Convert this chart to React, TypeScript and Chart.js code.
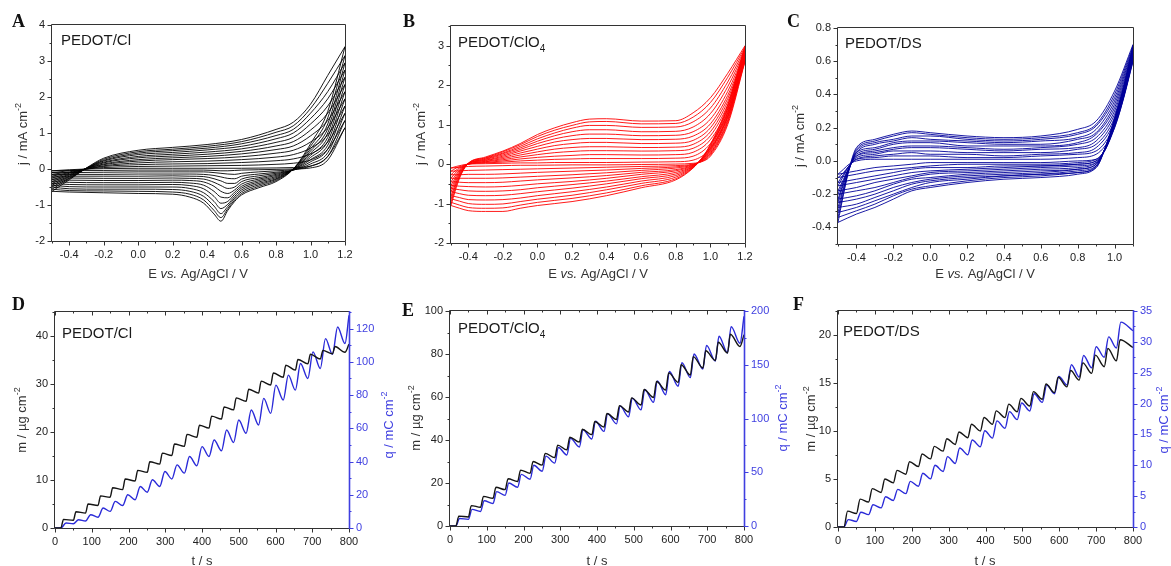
import React, { useEffect, useRef } from "react";
import { Chart, registerables } from "chart.js";
Chart.register(...registerables);

const SANS = '"Liberation Sans", Arial, sans-serif';
const SERIF = '"Liberation Serif", "Times New Roman", serif';
const AXIS = "#333333";
const BLUE_AXIS = "#3f3fe0";
const BLUE_LINE = "#2a2ad8";

// ---------------- Panel A : PEDOT/Cl cyclic voltammograms ----------------
const cvA_Efwd = [-0.5, -0.4, -0.3, -0.2, 0.0, 0.2, 0.4, 0.6, 0.8, 0.9, 1.0, 1.1, 1.2];
const cvA_fwd = [
  [-0.05, -0.02, 0.0, 0.01, 0.02, 0.02, 0.02, 0.02, 0.03, 0.04, 0.08, 0.35, 1.15],
  [-0.1, -0.05, 0.0, 0.04, 0.07, 0.08, 0.09, 0.1, 0.13, 0.16, 0.25, 0.55, 1.35],
  [-0.15, -0.08, 0.0, 0.07, 0.12, 0.14, 0.15, 0.18, 0.23, 0.28, 0.42, 0.75, 1.55],
  [-0.2, -0.1, 0.0, 0.09, 0.17, 0.2, 0.22, 0.26, 0.33, 0.4, 0.58, 0.95, 1.75],
  [-0.25, -0.12, 0.01, 0.12, 0.22, 0.26, 0.29, 0.34, 0.44, 0.52, 0.75, 1.15, 1.95],
  [-0.3, -0.15, 0.01, 0.14, 0.26, 0.31, 0.35, 0.42, 0.54, 0.64, 0.92, 1.35, 2.15],
  [-0.35, -0.17, 0.01, 0.17, 0.31, 0.36, 0.41, 0.49, 0.64, 0.76, 1.08, 1.55, 2.35],
  [-0.4, -0.2, 0.02, 0.19, 0.35, 0.41, 0.47, 0.56, 0.74, 0.88, 1.25, 1.75, 2.55],
  [-0.45, -0.22, 0.02, 0.22, 0.4, 0.46, 0.53, 0.63, 0.84, 1.0, 1.4, 1.95, 2.75],
  [-0.5, -0.25, 0.02, 0.24, 0.44, 0.51, 0.58, 0.7, 0.93, 1.1, 1.55, 2.15, 2.95],
  [-0.56, -0.27, 0.02, 0.27, 0.48, 0.55, 0.63, 0.76, 1.02, 1.2, 1.68, 2.38, 3.15],
  [-0.62, -0.3, 0.03, 0.3, 0.52, 0.6, 0.68, 0.82, 1.1, 1.3, 1.8, 2.6, 3.4],
];
const cvA_Erev = [1.2, 1.1, 1.0, 0.9, 0.8, 0.7, 0.6, 0.56, 0.52, 0.48, 0.44, 0.38, 0.3, 0.2, 0.0, -0.2, -0.4, -0.5];
const cvA_rev = [
  [1.15, 0.25, 0.03, 0.0, -0.01, -0.02, -0.03, -0.04, -0.05, -0.05, -0.04, -0.03, -0.03, -0.03, -0.03, -0.04, -0.04, -0.05],
  [1.35, 0.35, 0.08, -0.02, -0.05, -0.08, -0.12, -0.15, -0.14, -0.12, -0.1, -0.08, -0.08, -0.08, -0.08, -0.09, -0.1, -0.1],
  [1.55, 0.45, 0.14, -0.03, -0.09, -0.14, -0.2, -0.27, -0.26, -0.22, -0.18, -0.15, -0.14, -0.14, -0.14, -0.15, -0.15, -0.15],
  [1.75, 0.55, 0.2, -0.03, -0.12, -0.19, -0.28, -0.4, -0.4, -0.33, -0.27, -0.21, -0.2, -0.19, -0.2, -0.2, -0.2, -0.2],
  [1.95, 0.66, 0.26, -0.02, -0.15, -0.24, -0.35, -0.5, -0.54, -0.46, -0.37, -0.28, -0.26, -0.25, -0.26, -0.26, -0.25, -0.25],
  [2.15, 0.77, 0.32, -0.02, -0.18, -0.28, -0.42, -0.58, -0.68, -0.62, -0.48, -0.36, -0.32, -0.31, -0.32, -0.32, -0.31, -0.3],
  [2.35, 0.88, 0.38, -0.01, -0.21, -0.32, -0.48, -0.64, -0.8, -0.78, -0.62, -0.45, -0.39, -0.37, -0.38, -0.38, -0.37, -0.35],
  [2.55, 1.0, 0.44, -0.01, -0.24, -0.36, -0.53, -0.7, -0.9, -0.95, -0.76, -0.55, -0.46, -0.43, -0.44, -0.44, -0.43, -0.4],
  [2.75, 1.12, 0.5, 0.0, -0.27, -0.4, -0.58, -0.76, -0.98, -1.1, -0.9, -0.66, -0.54, -0.5, -0.5, -0.5, -0.49, -0.45],
  [2.95, 1.25, 0.56, 0.0, -0.29, -0.44, -0.63, -0.81, -1.04, -1.24, -1.03, -0.76, -0.62, -0.57, -0.56, -0.56, -0.55, -0.5],
  [3.15, 1.42, 0.63, 0.0, -0.32, -0.48, -0.68, -0.86, -1.1, -1.35, -1.15, -0.86, -0.7, -0.64, -0.62, -0.61, -0.6, -0.56],
  [3.4, 1.6, 0.7, 0.0, -0.35, -0.52, -0.72, -0.9, -1.15, -1.45, -1.25, -0.95, -0.78, -0.7, -0.68, -0.66, -0.64, -0.62],
];

// ---------------- Panel B : PEDOT/ClO4 ----------------
const cvB_Efwd = [-0.5, -0.47, -0.44, -0.4, -0.3, -0.2, -0.1, 0.0, 0.1, 0.2, 0.3, 0.4, 0.6, 0.8, 0.9, 1.0, 1.1, 1.2];
const cvB_fwd = [
  [-0.1, -0.06, -0.03, 0.0, 0.01, 0.02, 0.03, 0.03, 0.04, 0.04, 0.04, 0.04, 0.05, 0.06, 0.1, 0.4, 1.2, 2.6],
  [-0.18, -0.1, -0.05, 0.0, 0.03, 0.05, 0.08, 0.1, 0.12, 0.13, 0.14, 0.14, 0.14, 0.15, 0.2, 0.52, 1.3, 2.64],
  [-0.27, -0.15, -0.07, 0.0, 0.04, 0.08, 0.13, 0.17, 0.2, 0.22, 0.24, 0.24, 0.23, 0.24, 0.3, 0.62, 1.4, 2.68],
  [-0.36, -0.2, -0.09, 0.0, 0.06, 0.11, 0.18, 0.24, 0.29, 0.32, 0.34, 0.34, 0.33, 0.34, 0.4, 0.72, 1.5, 2.71],
  [-0.45, -0.26, -0.11, 0.0, 0.07, 0.14, 0.23, 0.31, 0.38, 0.42, 0.44, 0.44, 0.42, 0.43, 0.5, 0.82, 1.58, 2.74],
  [-0.54, -0.31, -0.13, 0.01, 0.09, 0.17, 0.28, 0.38, 0.47, 0.52, 0.55, 0.55, 0.52, 0.53, 0.6, 0.92, 1.66, 2.77],
  [-0.62, -0.36, -0.15, 0.01, 0.1, 0.2, 0.33, 0.45, 0.56, 0.62, 0.65, 0.65, 0.62, 0.63, 0.71, 1.02, 1.74, 2.8],
  [-0.7, -0.41, -0.17, 0.01, 0.12, 0.23, 0.37, 0.52, 0.64, 0.72, 0.76, 0.76, 0.72, 0.73, 0.82, 1.14, 1.84, 2.84],
  [-0.8, -0.46, -0.19, 0.01, 0.13, 0.26, 0.41, 0.58, 0.72, 0.82, 0.87, 0.87, 0.82, 0.83, 0.94, 1.28, 1.96, 2.88],
  [-0.88, -0.5, -0.21, 0.02, 0.15, 0.28, 0.45, 0.64, 0.79, 0.91, 0.98, 0.98, 0.93, 0.94, 1.07, 1.42, 2.08, 2.92],
  [-0.97, -0.55, -0.23, 0.02, 0.16, 0.31, 0.49, 0.7, 0.86, 0.98, 1.07, 1.08, 1.02, 1.03, 1.19, 1.56, 2.2, 2.96],
  [-1.05, -0.6, -0.25, 0.02, 0.18, 0.33, 0.52, 0.75, 0.92, 1.05, 1.14, 1.15, 1.09, 1.1, 1.3, 1.68, 2.3, 3.0],
];
const cvB_Erev = [1.2, 1.1, 1.0, 0.95, 0.9, 0.8, 0.6, 0.4, 0.2, 0.0, -0.1, -0.2, -0.3, -0.4, -0.45, -0.5];
const cvB_rev = [
  [2.6, 1.0, 0.2, 0.06, 0.02, 0.0, -0.01, -0.02, -0.02, -0.03, -0.03, -0.04, -0.05, -0.06, -0.08, -0.1],
  [2.64, 1.05, 0.23, 0.07, 0.0, -0.04, -0.06, -0.08, -0.1, -0.12, -0.13, -0.14, -0.15, -0.16, -0.17, -0.18],
  [2.68, 1.09, 0.26, 0.08, -0.01, -0.07, -0.11, -0.15, -0.18, -0.21, -0.23, -0.25, -0.26, -0.26, -0.27, -0.27],
  [2.71, 1.13, 0.28, 0.09, -0.02, -0.1, -0.16, -0.22, -0.27, -0.31, -0.33, -0.35, -0.36, -0.36, -0.36, -0.36],
  [2.74, 1.18, 0.31, 0.1, -0.03, -0.14, -0.21, -0.29, -0.35, -0.4, -0.43, -0.46, -0.47, -0.47, -0.46, -0.45],
  [2.77, 1.22, 0.34, 0.11, -0.04, -0.17, -0.26, -0.36, -0.44, -0.5, -0.54, -0.57, -0.58, -0.57, -0.56, -0.54],
  [2.8, 1.26, 0.36, 0.12, -0.05, -0.21, -0.32, -0.43, -0.52, -0.6, -0.65, -0.68, -0.69, -0.68, -0.65, -0.62],
  [2.84, 1.3, 0.39, 0.12, -0.06, -0.25, -0.37, -0.5, -0.61, -0.7, -0.75, -0.79, -0.8, -0.79, -0.75, -0.7],
  [2.88, 1.35, 0.42, 0.13, -0.07, -0.29, -0.43, -0.58, -0.7, -0.8, -0.86, -0.9, -0.91, -0.9, -0.85, -0.8],
  [2.92, 1.4, 0.45, 0.14, -0.08, -0.33, -0.49, -0.65, -0.79, -0.89, -0.95, -1.01, -1.02, -1.0, -0.94, -0.88],
  [2.96, 1.45, 0.48, 0.15, -0.09, -0.37, -0.55, -0.73, -0.87, -0.97, -1.04, -1.11, -1.12, -1.1, -1.04, -0.97],
  [3.0, 1.5, 0.5, 0.15, -0.1, -0.4, -0.6, -0.8, -0.95, -1.05, -1.12, -1.2, -1.2, -1.18, -1.12, -1.05],
];

// ---------------- Panel C : PEDOT/DS ----------------
const cvC_Efwd = [-0.5, -0.47, -0.44, -0.4, -0.3, -0.2, -0.1, 0.0, 0.2, 0.4, 0.6, 0.8, 0.9, 1.0, 1.1];
const cvC_fwd = [
  [-0.08, -0.05, -0.02, 0.0, 0.01, 0.01, 0.01, 0.01, 0.01, 0.01, 0.01, 0.02, 0.04, 0.2, 0.6],
  [-0.1, -0.07, -0.03, 0.01, 0.02, 0.03, 0.03, 0.03, 0.02, 0.02, 0.03, 0.04, 0.06, 0.22, 0.61],
  [-0.13, -0.08, -0.03, 0.01, 0.03, 0.04, 0.05, 0.04, 0.04, 0.03, 0.04, 0.05, 0.08, 0.24, 0.62],
  [-0.15, -0.09, -0.03, 0.02, 0.04, 0.06, 0.06, 0.06, 0.05, 0.05, 0.05, 0.07, 0.1, 0.26, 0.63],
  [-0.18, -0.11, -0.04, 0.03, 0.05, 0.07, 0.08, 0.08, 0.07, 0.06, 0.07, 0.08, 0.12, 0.28, 0.63],
  [-0.2, -0.12, -0.04, 0.03, 0.06, 0.08, 0.09, 0.09, 0.08, 0.07, 0.08, 0.1, 0.14, 0.3, 0.64],
  [-0.23, -0.13, -0.04, 0.04, 0.07, 0.1, 0.11, 0.11, 0.09, 0.09, 0.09, 0.11, 0.16, 0.32, 0.65],
  [-0.25, -0.14, -0.05, 0.05, 0.08, 0.11, 0.12, 0.12, 0.11, 0.1, 0.1, 0.13, 0.17, 0.34, 0.66],
  [-0.28, -0.16, -0.05, 0.05, 0.1, 0.12, 0.14, 0.13, 0.12, 0.11, 0.12, 0.14, 0.19, 0.36, 0.67],
  [-0.31, -0.17, -0.05, 0.06, 0.11, 0.13, 0.15, 0.15, 0.13, 0.12, 0.13, 0.16, 0.21, 0.38, 0.68],
  [-0.34, -0.19, -0.05, 0.07, 0.12, 0.15, 0.17, 0.16, 0.14, 0.13, 0.14, 0.17, 0.22, 0.4, 0.69],
  [-0.37, -0.2, -0.05, 0.08, 0.13, 0.16, 0.18, 0.17, 0.15, 0.14, 0.15, 0.19, 0.24, 0.42, 0.7],
];
const cvC_Erev = [1.1, 1.05, 1.0, 0.95, 0.9, 0.8, 0.6, 0.4, 0.2, 0.0, -0.1, -0.2, -0.3, -0.4, -0.5];
const cvC_rev = [
  [0.6, 0.38, 0.2, 0.07, 0.01, 0.0, -0.01, -0.01, -0.01, -0.01, -0.02, -0.03, -0.04, -0.06, -0.08],
  [0.61, 0.39, 0.21, 0.07, 0.01, -0.01, -0.02, -0.02, -0.02, -0.03, -0.04, -0.05, -0.06, -0.08, -0.1],
  [0.62, 0.39, 0.21, 0.07, 0.0, -0.02, -0.03, -0.03, -0.04, -0.04, -0.05, -0.07, -0.09, -0.11, -0.13],
  [0.63, 0.4, 0.22, 0.07, 0.0, -0.02, -0.03, -0.04, -0.05, -0.06, -0.07, -0.09, -0.11, -0.13, -0.15],
  [0.63, 0.4, 0.22, 0.07, -0.01, -0.03, -0.04, -0.05, -0.06, -0.07, -0.09, -0.11, -0.13, -0.16, -0.18],
  [0.64, 0.41, 0.23, 0.08, -0.01, -0.04, -0.05, -0.06, -0.07, -0.08, -0.1, -0.13, -0.16, -0.18, -0.2],
  [0.65, 0.42, 0.23, 0.08, -0.02, -0.05, -0.06, -0.07, -0.08, -0.1, -0.11, -0.14, -0.18, -0.21, -0.23],
  [0.66, 0.42, 0.24, 0.08, -0.02, -0.05, -0.07, -0.08, -0.09, -0.11, -0.13, -0.16, -0.2, -0.23, -0.25],
  [0.67, 0.43, 0.24, 0.08, -0.03, -0.06, -0.08, -0.09, -0.1, -0.12, -0.14, -0.18, -0.22, -0.26, -0.28],
  [0.68, 0.44, 0.25, 0.08, -0.03, -0.07, -0.08, -0.09, -0.11, -0.13, -0.16, -0.2, -0.24, -0.28, -0.31],
  [0.69, 0.44, 0.25, 0.08, -0.04, -0.07, -0.09, -0.1, -0.12, -0.15, -0.17, -0.21, -0.26, -0.3, -0.34],
  [0.7, 0.45, 0.26, 0.08, -0.04, -0.08, -0.1, -0.11, -0.13, -0.16, -0.18, -0.23, -0.28, -0.32, -0.37],
];

// ---------------- Bottom row : mass (m) and charge (q) vs time ----------------
const tCycleStart = [16, 50, 83, 117, 150, 184, 218, 251, 285, 318, 352, 386, 419, 453, 486, 520, 554, 587, 621, 654, 688, 722, 755, 789];

const mD_trough = [0, 1.6, 3.1, 4.7, 6.4, 8.0, 9.8, 11.6, 13.3, 15.1, 17.0, 18.9, 20.8, 22.7, 24.6, 26.4, 28.1, 29.8, 31.4, 32.9, 34.2, 35.2, 36.3, 36.6];
const mD_peak = [1.8, 3.4, 5.0, 6.7, 8.4, 10.2, 12.0, 13.8, 15.6, 17.5, 19.5, 21.4, 23.3, 25.2, 27.1, 28.9, 30.6, 32.3, 33.9, 35.1, 36.2, 37.0, 37.8];
const qD_trough = [0, 2.6, 4.2, 6.5, 10, 13.5, 17, 21.5, 25, 29.5, 33, 37.5, 43, 46.5, 51.5, 57, 62, 69, 77, 83, 90, 96, 104.5, 111];
const qD_peak = [3, 5, 8, 12, 16, 20, 25, 29, 34, 38, 43, 49, 53, 59, 65, 71, 78, 86, 92, 99, 106, 114, 121];
const mD_end = 38.3;
const qD_end = 128;

const mE_trough = [0, 4.2, 8.7, 12.9, 16.9, 20.7, 24.5, 28.3, 31.8, 35.4, 39.0, 42.5, 46.0, 49.5, 53.0, 56.3, 59.8, 63.2, 66.8, 70.2, 73.5, 77.0, 80.5, 83.5];
const mE_peak = [4.6, 9.5, 13.8, 18, 22, 26, 30, 33.8, 37.6, 41.3, 45, 48.6, 52.3, 56, 59.6, 63.5, 67.2, 71.2, 75, 78.8, 81.5, 85.5, 89.2];
const qE_trough = [0, 6.2, 13.5, 21, 28.5, 36, 43.5, 51, 58.5, 66, 73.5, 81, 88, 95, 101.5, 108, 115, 122, 130, 138, 146, 153.5, 161, 170];
const qE_peak = [7, 15.5, 23.5, 32, 40, 48, 56.5, 65, 73, 81.5, 89.6, 97.4, 104.5, 111.5, 119, 127, 135, 143.7, 152, 160, 168, 176.5, 185.5];
const mE_end = 89;
const qE_end = 195;

const mF_trough = [0, 1.4, 2.6, 3.6, 4.6, 5.5, 6.3, 7.1, 7.9, 8.6, 9.3, 10.0, 10.7, 11.4, 12.0, 12.6, 13.3, 14.0, 14.6, 15.3, 16.0, 16.7, 17.3];
const mF_peak = [1.65, 2.9, 4.0, 5.0, 5.9, 6.8, 7.6, 8.4, 9.2, 9.9, 10.7, 11.4, 12.1, 12.8, 13.4, 14.1, 14.9, 15.6, 16.3, 17.1, 17.9, 18.6, 19.5];
const qF_trough = [0, 0.9, 2.0, 3.1, 4.3, 5.4, 6.6, 7.8, 9.0, 10.3, 11.7, 13.0, 14.4, 16.0, 17.4, 18.8, 20.2, 21.6, 23.0, 24.3, 25.8, 27.5, 29.0];
const qF_peak = [1.2, 2.4, 3.6, 4.9, 6.1, 7.4, 8.7, 10.0, 11.4, 12.8, 14.1, 15.6, 17.2, 18.7, 20.1, 21.6, 23.0, 24.4, 26.3, 27.8, 29.2, 30.8, 33.2];
const mF_end = 18.7;
const qF_end = 31.8;

// ---------------- Tick label values ----------------
const ticksE_AB = [-0.4, -0.2, 0, 0.2, 0.4, 0.6, 0.8, 1.0, 1.2];
const ticksE_C = [-0.4, -0.2, 0, 0.2, 0.4, 0.6, 0.8, 1.0];
const ticksJ_A = [-2, -1, 0, 1, 2, 3, 4];
const ticksJ_B = [-2, -1, 0, 1, 2, 3];
const ticksJ_C = [-0.4, -0.2, 0, 0.2, 0.4, 0.6, 0.8];
const ticksT = [0, 100, 200, 300, 400, 500, 600, 700, 800];
const ticksM_D = [0, 10, 20, 30, 40];
const ticksQ_D = [0, 20, 40, 60, 80, 100, 120];
const ticksM_E = [0, 20, 40, 60, 80, 100];
const ticksQ_E = [0, 50, 100, 150, 200];
const ticksM_F = [0, 5, 10, 15, 20];
const ticksQ_F = [0, 5, 10, 15, 20, 25, 30, 35];

// ---------------- helpers ----------------
type Run = { t: string; it?: boolean; sup?: boolean; sub?: boolean };
type TextItem = {
  runs: Run[]; x: number; y: number; size: number; family?: string; bold?: boolean;
  color?: string; rot?: number; align?: "left" | "center";
};
type Axis = { min: number; max: number; majors: number[]; dec: number };
type PanelCfg = {
  key: string; box: number[]; plot: number[]; x: Axis; y: Axis; y2?: Axis;
  datasets: any[]; texts: TextItem[];
};

function cvDatasets(Ef: number[], fwd: number[][], Er: number[], rev: number[][], color: string) {
  const style = { borderColor: color, borderWidth: 0.9, pointRadius: 0, fill: false, cubicInterpolationMode: "monotone" };
  const out: any[] = [];
  fwd.forEach((row) => out.push({ ...style, data: Ef.map((x, j) => ({ x, y: row[j] })) }));
  rev.forEach((row) =>
    out.push({ ...style, data: Er.map((x, j) => ({ x, y: row[j] })).sort((a, b) => a.x - b.x) })
  );
  return out;
}

function sawPoints(troughs: number[], peaks: number[], peakDelay: number, endV: number) {
  const pts = [{ x: 0, y: 0 }];
  troughs.forEach((v, k) => {
    pts.push({ x: tCycleStart[k], y: v });
    if (k < peaks.length) pts.push({ x: tCycleStart[k] + peakDelay, y: peaks[k] });
  });
  pts.push({ x: 800, y: endV });
  return pts;
}

function timeDatasets(mt: number[], mp: number[], mEnd: number, mDelay: number, qt: number[], qp: number[], qEnd: number, qDelay: number) {
  const base = { pointRadius: 0, fill: false, borderWidth: 1.4, cubicInterpolationMode: "monotone" };
  return [
    { ...base, borderColor: "#151515", yAxisID: "y", data: sawPoints(mt, mp, mDelay, mEnd) },
    { ...base, borderColor: BLUE_LINE, yAxisID: "y2", data: sawPoints(qt, qp, qDelay, qEnd) },
  ];
}

function minorsOf(ax: Axis) {
  const m = ax.majors;
  const step = m[1] - m[0];
  const half = step / 2;
  const out: number[] = [];
  for (let v = m[0] - half; v >= ax.min - 1e-9; v -= step) out.push(v);
  for (let i = 0; i < m.length - 1; i++) out.push(m[i] + half);
  for (let v = m[m.length - 1] + half; v <= ax.max + 1e-9; v += step) out.push(v);
  return out;
}

function drawText(ctx: CanvasRenderingContext2D, item: TextItem, ox: number, oy: number) {
  const fam = item.family ?? SANS;
  const fontFor = (r: Run) =>
    `${r.it ? "italic " : ""}${item.bold ? "bold " : ""}${r.sup || r.sub ? Math.round(item.size * 0.68) : item.size}px ${fam}`;
  ctx.save();
  ctx.fillStyle = item.color ?? "#222";
  ctx.textBaseline = "alphabetic";
  ctx.textAlign = "left";
  let total = 0;
  const widths = item.runs.map((r) => {
    ctx.font = fontFor(r);
    const w = ctx.measureText(r.t).width;
    total += w;
    return w;
  });
  ctx.translate(item.x - ox, item.y - oy);
  if (item.rot) ctx.rotate((item.rot * Math.PI) / 180);
  let cx = item.align === "left" ? 0 : -total / 2;
  const base = item.align === "left" ? 0 : item.size * 0.36;
  item.runs.forEach((r, i) => {
    ctx.font = fontFor(r);
    const dy = r.sup ? -item.size * 0.42 : r.sub ? item.size * 0.3 : 0;
    ctx.fillText(r.t, cx, base + dy);
    cx += widths[i];
  });
  ctx.restore();
}

function decor(p: PanelCfg) {
  return {
    id: "decor" + p.key,
    afterDraw(chart: any) {
      const ctx: CanvasRenderingContext2D = chart.ctx;
      const a = chart.chartArea;
      const xs = chart.scales.x, ys = chart.scales.y, y2s = chart.scales.y2;
      const l = Math.round(a.left) - 0.5, r = Math.round(a.right) + 0.5;
      const t = Math.round(a.top) - 0.5, b = Math.round(a.bottom) + 0.5;
      const seg = (x1: number, y1: number, x2: number, y2: number) => {
        ctx.beginPath(); ctx.moveTo(x1, y1); ctx.lineTo(x2, y2); ctx.stroke();
      };
      ctx.save();
      ctx.lineWidth = 1;
      ctx.strokeStyle = AXIS;
      seg(l, t, l, b); seg(l, b, r, b); seg(l, t, r, t);
      if (!p.y2) seg(r, t, r, b);
      const MAJ = 4, MIN = 2;
      const xTicks = (v: number, len: number) => {
        const X = Math.round(xs.getPixelForValue(v)) + 0.5;
        seg(X, b, X, b + len);
        if (p.y2) seg(X, t, X, t + len);
      };
      p.x.majors.forEach((v) => xTicks(v, MAJ));
      minorsOf(p.x).forEach((v) => xTicks(v, MIN));
      const yTicks = (v: number, len: number) => {
        const Y = Math.round(ys.getPixelForValue(v)) + 0.5;
        seg(l, Y, l - len, Y);
      };
      p.y.majors.forEach((v) => yTicks(v, MAJ));
      minorsOf(p.y).forEach((v) => yTicks(v, MIN));
      if (p.y2 && y2s) {
        ctx.strokeStyle = BLUE_AXIS;
        ctx.lineWidth = 1.6;
        seg(r, t - 0.5, r, b + 0.5);
        ctx.lineWidth = 1;
        const y2Ticks = (v: number, len: number) => {
          const Y = Math.round(y2s.getPixelForValue(v)) + 0.5;
          seg(r, Y, r + len, Y);
        };
        p.y2.majors.forEach((v) => y2Ticks(v, MAJ));
        minorsOf(p.y2).forEach((v) => y2Ticks(v, MIN));
      }
      ctx.restore();
      p.texts.forEach((it) => drawText(ctx, it, p.box[0], p.box[1]));
    },
  };
}

function axisOpts(ax: Axis, position: string, fit: (s: any) => void, color: string, pad: number) {
  return {
    type: "linear",
    position,
    min: ax.min,
    max: ax.max,
    grid: { display: false, drawTicks: false, tickLength: 0 },
    border: { display: false },
    afterBuildTicks: (s: any) => {
      s.ticks = ax.majors.map((v) => ({ value: v }));
    },
    afterFit: fit,
    ticks: {
      autoSkip: false,
      maxRotation: 0,
      minRotation: 0,
      padding: pad,
      color,
      font: { family: SANS, size: 11 },
      callback: (v: any) => Number(v).toFixed(ax.dec),
    },
  };
}

function buildConfig(p: PanelCfg): any {
  const [bl, bt, bw, bh] = p.box;
  const [L, T, R, B] = p.plot;
  const scales: any = {
    x: axisOpts(p.x, "bottom", (s) => { s.height = bt + bh - B; }, "#222", 7),
    y: axisOpts(p.y, "left", (s) => { s.width = L - bl; }, "#222", 7),
  };
  if (p.y2) scales.y2 = axisOpts(p.y2, "right", (s) => { s.width = bl + bw - R; }, BLUE_AXIS, 7);
  return {
    type: "line",
    data: { datasets: p.datasets },
    options: {
      animation: false,
      responsive: false,
      maintainAspectRatio: false,
      devicePixelRatio: 1,
      events: [],
      layout: { padding: { left: 0, top: T - bt, right: p.y2 ? 0 : bl + bw - R, bottom: 0 } },
      plugins: { legend: { display: false }, tooltip: { enabled: false } },
      scales,
    },
    plugins: [decor(p)],
  };
}

const eTitle: Run[] = [{ t: "E " }, { t: "vs.", it: true }, { t: " Ag/AgCl / V" }];
const jTitle: Run[] = [{ t: "j / mA cm" }, { t: "-2", sup: true }];
const mTitle: Run[] = [{ t: "m / \u00b5g cm" }, { t: "-2", sup: true }];
const qTitle: Run[] = [{ t: "q / mC cm" }, { t: "-2", sup: true }];
const tTitle: Run[] = [{ t: "t / s" }];
const clLabel: Run[] = [{ t: "PEDOT/Cl" }];
const clo4Label: Run[] = [{ t: "PEDOT/ClO" }, { t: "4", sub: true }];
const dsLabel: Run[] = [{ t: "PEDOT/DS" }];

const letter = (s: string, x: number, y: number): TextItem => ({
  runs: [{ t: s }], x, y, size: 18, family: SERIF, bold: true, align: "left", color: "#111",
});
const inner = (runs: Run[], x: number, y: number): TextItem => ({ runs, x, y, size: 15, align: "left", color: "#1a1a1a" });
const xTitle = (runs: Run[], x: number, y: number): TextItem => ({ runs, x, y, size: 13, color: "#333" });
const yTitle = (runs: Run[], x: number, y: number, color = "#333"): TextItem => ({ runs, x, y, size: 13, rot: -90, color });

const PANELS: PanelCfg[] = [
  {
    key: "A", box: [0, 0, 390, 283], plot: [52, 25, 345, 241],
    x: { min: -0.5, max: 1.2, majors: ticksE_AB, dec: 1 },
    y: { min: -2, max: 4, majors: ticksJ_A, dec: 0 },
    datasets: cvDatasets(cvA_Efwd, cvA_fwd, cvA_Erev, cvA_rev, "#000000"),
    texts: [letter("A", 12, 27), inner(clLabel, 61, 45), xTitle(eTitle, 198, 273), yTitle(jTitle, 22, 134)],
  },
  {
    key: "B", box: [390, 0, 390, 283], plot: [451, 26, 745, 243],
    x: { min: -0.5, max: 1.2, majors: ticksE_AB, dec: 1 },
    y: { min: -2, max: 3.5, majors: ticksJ_B, dec: 0 },
    datasets: cvDatasets(cvB_Efwd, cvB_fwd, cvB_Erev, cvB_rev, "#ff0000"),
    texts: [letter("B", 403, 27), inner(clo4Label, 458, 47), xTitle(eTitle, 598, 273), yTitle(jTitle, 420, 134)],
  },
  {
    key: "C", box: [780, 0, 391, 283], plot: [838, 28, 1133, 244],
    x: { min: -0.5, max: 1.1, majors: ticksE_C, dec: 1 },
    y: { min: -0.5, max: 0.8, majors: ticksJ_C, dec: 1 },
    datasets: cvDatasets(cvC_Efwd, cvC_fwd, cvC_Erev, cvC_rev, "#00009a"),
    texts: [letter("C", 787, 27), inner(dsLabel, 845, 48), xTitle(eTitle, 985, 273), yTitle(jTitle, 799, 136)],
  },
  {
    key: "D", box: [0, 283, 400, 283], plot: [55, 312, 349, 528],
    x: { min: 0, max: 800, majors: ticksT, dec: 0 },
    y: { min: 0, max: 45, majors: ticksM_D, dec: 0 },
    y2: { min: 0, max: 130, majors: ticksQ_D, dec: 0 },
    datasets: timeDatasets(mD_trough, mD_peak, mD_end, 7, qD_trough, qD_peak, qD_end, 14),
    texts: [letter("D", 12, 310), inner(clLabel, 62, 338), xTitle(tTitle, 202, 560), yTitle(mTitle, 21, 420), yTitle(qTitle, 388, 425, BLUE_AXIS)],
  },
  {
    key: "E", box: [400, 283, 390, 283], plot: [450, 311, 744, 526],
    x: { min: 0, max: 800, majors: ticksT, dec: 0 },
    y: { min: 0, max: 100, majors: ticksM_E, dec: 0 },
    y2: { min: 0, max: 200, majors: ticksQ_E, dec: 0 },
    datasets: timeDatasets(mE_trough, mE_peak, mE_end, 8, qE_trough, qE_peak, qE_end, 10),
    texts: [letter("E", 402, 316), inner(clo4Label, 458, 333), xTitle(tTitle, 597, 560), yTitle(mTitle, 415, 418), yTitle(qTitle, 782, 418, BLUE_AXIS)],
  },
  {
    key: "F", box: [790, 283, 381, 283], plot: [838, 311, 1133, 527],
    x: { min: 0, max: 800, majors: ticksT, dec: 0 },
    y: { min: 0, max: 22.5, majors: ticksM_F, dec: 0 },
    y2: { min: 0, max: 35, majors: ticksQ_F, dec: 0 },
    datasets: timeDatasets(mF_trough, mF_peak, mF_end, 10, qF_trough, qF_peak, qF_end, 12),
    texts: [letter("F", 793, 310), inner(dsLabel, 843, 336), xTitle(tTitle, 985, 560), yTitle(mTitle, 810, 419), yTitle(qTitle, 1163, 420, BLUE_AXIS)],
  },
];

function Panel({ cfg }: { cfg: PanelCfg }) {
  const ref = useRef<HTMLCanvasElement>(null);
  useEffect(() => {
    const chart = new Chart(ref.current as HTMLCanvasElement, buildConfig(cfg));
    return () => chart.destroy();
  }, [cfg]);
  const [l, t, w, h] = cfg.box;
  return (
    <canvas
      ref={ref}
      width={w}
      height={h}
      style={{ position: "absolute", left: l, top: t, width: w, height: h }}
    />
  );
}

export default function App() {
  return (
    <div style={{ position: "absolute", left: 0, top: 0, width: 1171, height: 566, background: "#ffffff", overflow: "hidden" }}>
      {PANELS.map((p) => (
        <Panel key={p.key} cfg={p} />
      ))}
    </div>
  );
}
